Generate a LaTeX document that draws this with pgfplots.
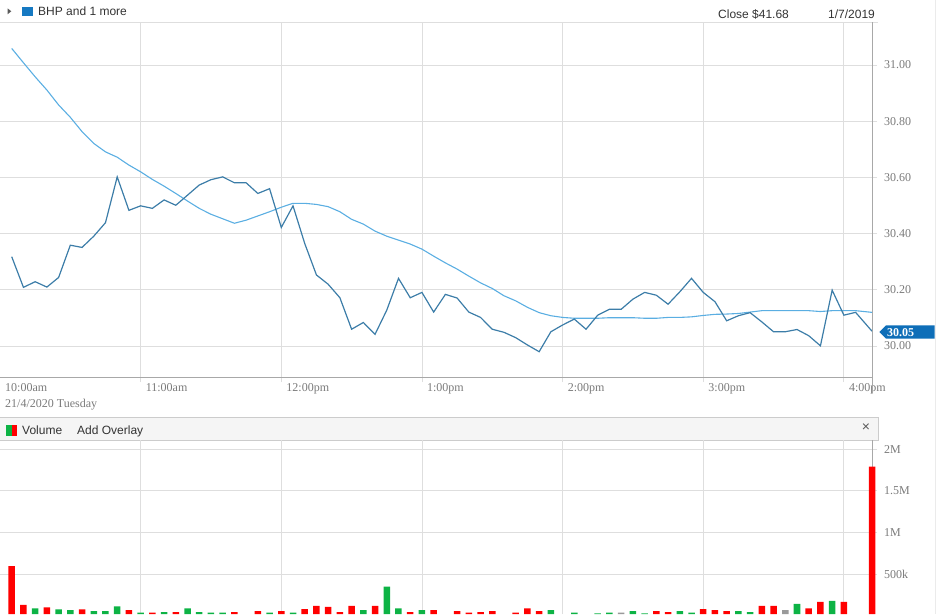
\documentclass[border=0pt]{standalone}
\usepackage{pgfplots}
\pgfplotsset{compat=1.18}
\usepackage{pgfplotstable}
\usepackage{fontspec}
\setmainfont{Liberation Serif}
\newfontfamily\arial{Liberation Sans}
\definecolor{pricecol}{HTML}{3C7DA8}
\definecolor{macol}{HTML}{5AAEE2}
\definecolor{boxcol}{HTML}{0E6EB8}
\definecolor{sqcol}{HTML}{1679C2}
\definecolor{gridcol}{HTML}{DEDEDE}
\definecolor{axcol}{HTML}{A8A8A8}
\definecolor{lblcol}{HTML}{7A7A7A}
\definecolor{hdrcol}{HTML}{333333}
\definecolor{volred}{HTML}{FF0000}
\definecolor{volgreen}{HTML}{0DB345}
\definecolor{volgray}{HTML}{9A9A9A}

\pgfplotstableread{
t p
5 30.318
10 30.209
15 30.229
20 30.21
25 30.244
30 30.359
35 30.351
40 30.391
45 30.439
50 30.602
55 30.483
60 30.499
65 30.49
70 30.52
75 30.501
80 30.537
85 30.573
90 30.592
95 30.602
100 30.581
105 30.581
110 30.543
115 30.56
120 30.422
125 30.499
130 30.365
135 30.253
140 30.22
145 30.172
150 30.06
155 30.084
160 30.042
165 30.128
170 30.241
175 30.172
180 30.191
185 30.121
190 30.184
195 30.171
200 30.121
205 30.102
210 30.06
215 30.049
220 30.03
225 30.004
230 29.98
235 30.051
240 30.075
245 30.096
250 30.06
255 30.11
260 30.131
265 30.131
270 30.167
275 30.191
280 30.181
285 30.149
290 30.193
295 30.241
300 30.191
305 30.158
310 30.09
315 30.108
320 30.119
325 30.086
330 30.051
335 30.051
340 30.059
345 30.037
350 30.001
355 30.199
360 30.11
365 30.12
372 30.053
}\pricetab

\pgfplotstableread{
t p
5 31.059
10 31.008
15 30.958
20 30.911
25 30.858
30 30.814
35 30.763
40 30.721
45 30.691
50 30.672
55 30.644
60 30.62
65 30.593
70 30.569
75 30.543
80 30.516
85 30.49
90 30.469
95 30.453
100 30.437
105 30.448
110 30.463
115 30.478
120 30.494
125 30.508
130 30.508
135 30.504
140 30.496
145 30.478
150 30.451
155 30.434
160 30.409
165 30.391
170 30.377
175 30.363
180 30.345
185 30.32
190 30.296
195 30.274
200 30.249
205 30.225
210 30.205
215 30.179
220 30.161
225 30.138
230 30.119
235 30.108
240 30.102
245 30.099
250 30.099
255 30.099
260 30.101
265 30.101
270 30.101
275 30.099
280 30.099
285 30.102
290 30.102
295 30.104
300 30.109
305 30.113
310 30.114
315 30.116
320 30.121
325 30.126
330 30.126
335 30.126
340 30.126
345 30.126
350 30.123
355 30.126
360 30.126
365 30.126
372 30.12
}\matab

\begin{document}
\begin{tikzpicture}[x=1pt,y=1pt]
\useasboundingbox (0,0) rectangle (939,-614);
% header row
\fill[black!65] (7.5,-8.3) -- (11.3,-11.3) -- (7.5,-14.3) -- cycle;
\fill[sqcol] (21.7,-6.7) rectangle (33.3,-16);
\node[anchor=base west, inner sep=0pt, text=hdrcol] at (38,-15.5) {\arial\fontsize{12}{14}\selectfont BHP and 1 more};
\node[anchor=base west, inner sep=0pt, text=hdrcol] at (718,-18) {\arial\fontsize{12}{14}\selectfont Close \$41.68};
\node[anchor=base west, inner sep=0pt, text=hdrcol] at (828,-18) {\arial\fontsize{12}{14}\selectfont 1/7/2019};
\draw[gridcol, line width=0.8pt] (0,-22.3) -- (878,-22.3);
\draw[black!8, line width=0.8pt] (935.5,0) -- (935.5,-614);

\begin{axis}[
  at={(0pt,-377pt)}, anchor=south west, scale only axis,
  width=872pt, height=355pt,
  xmin=0, xmax=372, ymin=29.89, ymax=31.153,
  axis x line*=bottom, axis y line*=right,
  axis line style={axcol, line width=0.8pt},
  xtick={60,120,180,240,300,360},
  xticklabels={11:00am,12:00pm,1:00pm,2:00pm,3:00pm,4:00pm},
  extra x ticks={0},
  extra x tick labels={{10:00am\\21/4/2020 Tuesday}},
  extra x tick style={grid=none, major tick length=0pt, xticklabel style={yshift=-5pt}},
  ytick={30,30.2,30.4,30.6,30.8,31},
  yticklabels={30.00,30.20,30.40,30.60,30.80,31.00},
  grid=major, major grid style={gridcol, line width=0.8pt},
  tick align=outside, major tick length=5pt,
  tick style={gridcol, line width=0.8pt},
  tick label style={font=\fontsize{12}{16}\selectfont, text=lblcol, inner sep=0pt},
  xticklabel style={anchor=north west, align=left, xshift=5pt, yshift=-1pt},
  yticklabel style={anchor=west, xshift=7pt},
  /pgf/number format/assume math mode=true,
]
\addplot[macol, line width=1.1pt] table[x=t,y=p] {\matab};
\addplot[pricecol, line width=1.2pt] table[x=t,y=p] {\pricetab};
\coordinate (L) at (axis cs:372,30.05);
\end{axis}
\draw[axcol, line width=0.8pt] (872,-377) -- (872,-393);
\fill[boxcol] ([xshift=7.3pt]L) -- ([xshift=14pt,yshift=6.7pt]L) -- ([xshift=62.5pt,yshift=6.7pt]L) -- ([xshift=62.5pt,yshift=-6.7pt]L) -- ([xshift=14pt,yshift=-6.7pt]L) -- cycle;
\node[anchor=west, inner sep=0pt, text=white] at ([xshift=15pt,yshift=-0.3pt]L) {\fontsize{12}{14}\selectfont\bfseries 30.05};

% volume header bar
\fill[black!4] (0,-417) rectangle (878,-440);
\draw[black!20, line width=0.8pt] (0,-417) -- (878,-417) -- (878,-440) -- (0,-440);
\fill[volgreen] (6,-424.5) rectangle (11.6,-435.5);
\fill[volred] (11.6,-424.5) rectangle (17.3,-435.5);
\node[anchor=base west, inner sep=0pt, text=hdrcol] at (22,-434) {\arial\fontsize{12}{14}\selectfont Volume};
\node[anchor=base west, inner sep=0pt, text=hdrcol] at (77,-434) {\arial\fontsize{12}{14}\selectfont Add Overlay};
\node[inner sep=0pt, text=black!65] at (866,-427.5) {\arial\fontsize{14}{14}\selectfont ×};

\begin{axis}[
  at={(0pt,-614pt)}, anchor=south west, scale only axis,
  width=872pt, height=174pt,
  xmin=0, xmax=372, ymin=0.025, ymax=2.109,
  clip=false,
  axis x line*=bottom, axis y line*=right,
  x axis line style={draw=none},
  y axis line style={axcol, line width=0.8pt},
  xtick={60,120,180,240,300,360}, xticklabels={},
  x tick style={draw=none},
  ytick={0.5,1,1.5,2}, yticklabels={500k,1M,1.5M,2M},
  grid=major, major grid style={gridcol, line width=0.8pt},
  tick align=outside, major tick length=5pt,
  y tick style={gridcol, line width=0.8pt},
  tick label style={font=\fontsize{12}{16}\selectfont, text=lblcol, inner sep=0pt},
  yticklabel style={anchor=west, xshift=7pt},
  /pgf/number format/assume math mode=true,
]
\addplot[ybar, bar width=6.5pt, bar shift=0pt, fill=volred, draw=none] coordinates {
(5,0.60) (10,0.133) (20,0.105) (35,0.081) (55,0.073) (65,0.041) (75,0.049) (100,0.049)
(110,0.061) (120,0.061) (130,0.085) (135,0.121) (140,0.109) (145,0.049) (150,0.121)
(160,0.121) (175,0.049) (185,0.073) (195,0.061) (200,0.041) (205,0.049) (210,0.061)
(220,0.041) (225,0.093) (230,0.061) (280,0.061) (285,0.049) (300,0.085) (305,0.073)
(310,0.061) (325,0.121) (330,0.121) (345,0.093) (350,0.169) (360,0.169) (372,1.79)};
\addplot[ybar, bar width=6.5pt, bar shift=0pt, fill=volgreen, draw=none] coordinates {
(15,0.093) (25,0.081) (30,0.073) (40,0.061) (45,0.061) (50,0.117) (60,0.041) (70,0.049)
(80,0.093) (85,0.049) (90,0.041) (95,0.041) (115,0.041) (125,0.041) (155,0.073)
(165,0.352) (170,0.093) (180,0.073) (235,0.073) (245,0.041) (255,0.033) (260,0.041)
(270,0.061) (275,0.033) (290,0.061) (295,0.041) (315,0.061) (320,0.049) (340,0.145) (355,0.181)};
\addplot[ybar, bar width=6.5pt, bar shift=0pt, fill=volgray, draw=none] coordinates {
(265,0.041) (335,0.073)};
\end{axis}
\end{tikzpicture}
\end{document}
